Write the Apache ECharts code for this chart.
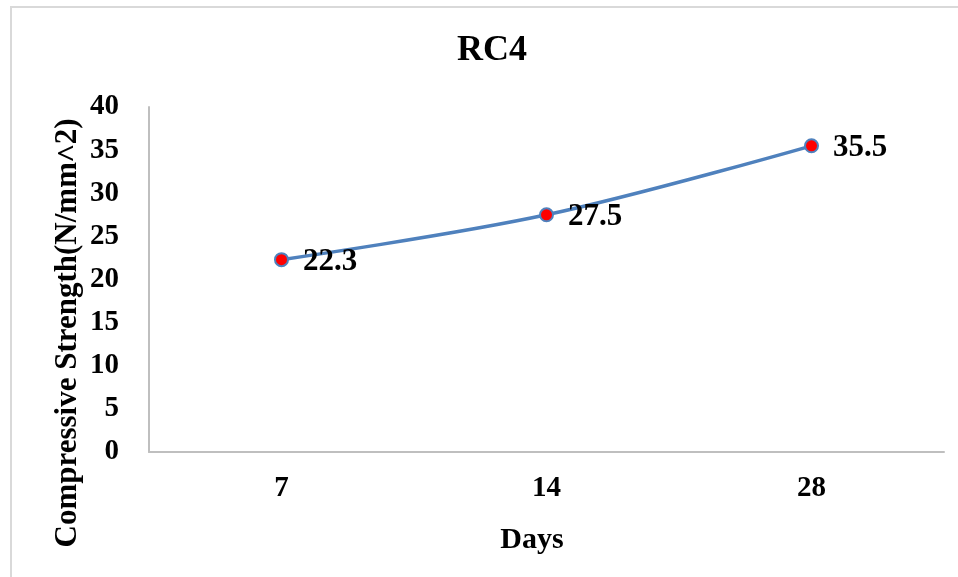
<!DOCTYPE html>
<html><head><meta charset="utf-8">
<script src="https://cdn.jsdelivr.net/npm/echarts@6/dist/echarts.min.js"></script>
<style>html,body{margin:0;padding:0;background:#fff}#c{width:958px;height:577px}</style>
</head><body><div id="c"></div>
<script>
const categories = ['7', '14', '28'];
const strength = [22.3, 27.5, 35.5];
const titleText = 'RC4';
const yName = 'Compressive Strength(N/mm˄2)';
const xName = 'Days';
const FONT = '"Liberation Serif", "Times New Roman", serif';

const chart = echarts.init(document.getElementById('c'));
chart.setOption({
  backgroundColor: '#fff',
  animation: false,
  title: { text: titleText, left: 452, top: 28,
    textStyle: { fontFamily: FONT, fontWeight: 'bold', fontSize: 36, color: '#000' } },
  grid: { left: 149, right: 14, top: 107, bottom: 125 },
  graphic: [
    { type: 'rect', shape: { x: 11, y: 7, width: 960, height: 580 },
      style: { fill: 'none', stroke: '#D9D9D9', lineWidth: 2 }, silent: true },
    { type: 'text', x: 68, y: 333, rotation: Math.PI / 2,
      style: { text: yName, font: 'bold 31px ' + FONT, fill: '#000', align: 'center', verticalAlign: 'middle' } },
    { type: 'text', x: 532, y: 540,
      style: { text: xName, font: 'bold 30px ' + FONT, fill: '#000', align: 'center', verticalAlign: 'middle' } }
  ],
  xAxis: {
    type: 'category', data: categories, boundaryGap: true,
    axisLine: { lineStyle: { color: '#BFBFBF', width: 2 } },
    axisTick: { show: false },
    axisLabel: { fontFamily: FONT, fontWeight: 'bold', fontSize: 29, color: '#000', margin: 22 }
  },
  yAxis: {
    type: 'value', min: 0, max: 40, interval: 5,
    axisLine: { show: true, lineStyle: { color: '#BFBFBF', width: 2 } },
    axisTick: { show: false },
    splitLine: { show: false },
    axisLabel: { fontFamily: FONT, fontWeight: 'bold', fontSize: 29, color: '#000', margin: 30 }
  },
  series: [{
    type: 'line', data: strength, smooth: 0.35,
    lineStyle: { color: '#4F81BD', width: 3.5 },
    symbol: 'circle', symbolSize: 13,
    itemStyle: { color: '#FF0000', borderColor: '#4F81BD', borderWidth: 2 },
    label: { show: true, position: 'right', distance: 14,
      fontFamily: FONT, fontWeight: 'bold', fontSize: 31, color: '#000', offset: [0, 2] }
  }]
});
</script></body></html>
